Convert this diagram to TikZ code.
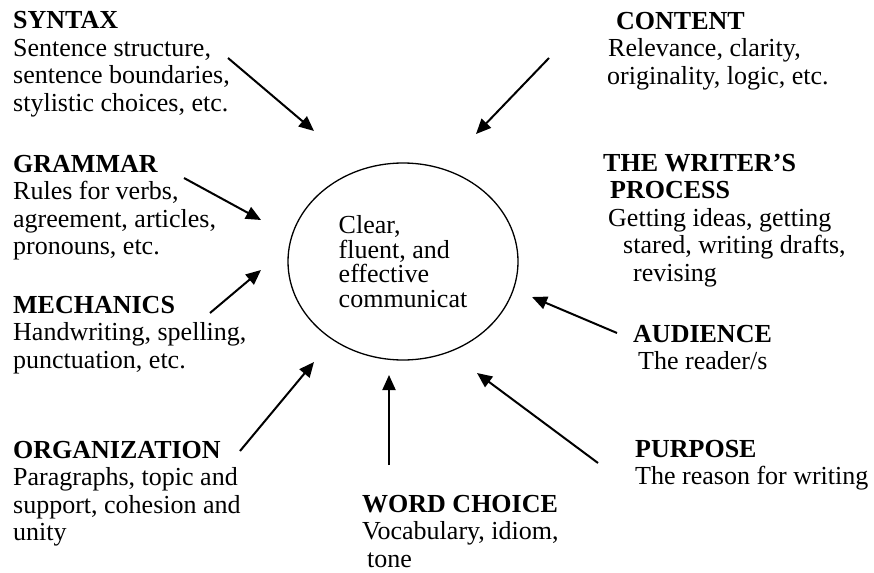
\documentclass[tikz,border=0pt]{standalone}
\usepackage{fontspec}
\setmainfont{Liberation Serif}
\usetikzlibrary{arrows.meta,shapes.geometric}
\begin{document}
\begin{tikzpicture}[x=1pt,y=-1pt,
  lbl/.style={anchor=north west, inner sep=0pt, align=left, font=\fontsize{26}{27.5}\selectfont},
  arr/.style={-{Triangle[length=15pt,width=13pt]}, line width=2pt},
  goalstyle/.style={draw, ellipse, line width=1.3pt, minimum width=230pt, minimum height=197pt,
    inner sep=0pt, align=left, font=\fontsize{26}{24.5}\selectfont}]
\useasboundingbox (0,0) rectangle (874,572);
\fill[white] (0,0) rectangle (874,572);

\node[goalstyle] (goal) at (403,261.5) {Clear,\\fluent, and\\effective\\communicat};

\node[lbl] (syntax) at (13,11.1) {\textbf{SYNTAX}\\Sentence structure,\\sentence boundaries,\\stylistic choices, etc.};
\node[lbl] (grammar) at (13,154.6) {\textbf{GRAMMAR}\\Rules for verbs,\\agreement, articles,\\pronouns, etc.};
\node[lbl] (mech) at (13,295.6) {\textbf{MECHANICS}\\Handwriting, spelling,\\punctuation, etc.};
\node[lbl] (org) at (13,440.6) {\textbf{ORGANIZATION}\\Paragraphs, topic and\\support, cohesion and\\unity};
\node[lbl] (word) at (362,494.6) {\textbf{WORD CHOICE}\\Vocabulary, idiom,\\\hspace*{5pt}tone};
\node[lbl] (content) at (607,11.6) {\hspace*{9pt}\textbf{CONTENT}\\\hspace*{1pt}Relevance, clarity,\\originality, logic, etc.};
\node[lbl] (writer) at (603,153.6) {\textbf{THE WRITER’S}\\\hspace*{7pt}\textbf{PROCESS}\\\hspace*{5pt}Getting ideas, getting\\\hspace*{20pt}stared, writing drafts,\\\hspace*{30pt}revising};
\node[lbl] (aud) at (633,324.6) {\textbf{AUDIENCE}\\\hspace*{5pt}The reader/s};
\node[lbl] (purp) at (635,439.6) {\textbf{PURPOSE}\\The reason for writing};

\coordinate (s1) at (228,58);  \coordinate (e1) at (314,131);
\coordinate (s2) at (184,178); \coordinate (e2) at (261,220);
\coordinate (s3) at (210,313); \coordinate (e3) at (261,270);
\coordinate (s4) at (240,451); \coordinate (e4) at (314,362);
\coordinate (s5) at (389,465); \coordinate (e5) at (389,375);
\coordinate (s6) at (598,463); \coordinate (e6) at (477,373);
\coordinate (s7) at (617,333); \coordinate (e7) at (532,297);
\coordinate (s8) at (549,58);  \coordinate (e8) at (476,134);

\draw[arr] (s1) -- (e1);
\draw[arr] (s2) -- (e2);
\draw[arr] (s3) -- (e3);
\draw[arr] (s4) -- (e4);
\draw[arr] (s5) -- (e5);
\draw[arr] (s6) -- (e6);
\draw[arr] (s7) -- (e7);
\draw[arr] (s8) -- (e8);
\end{tikzpicture}
\end{document}
